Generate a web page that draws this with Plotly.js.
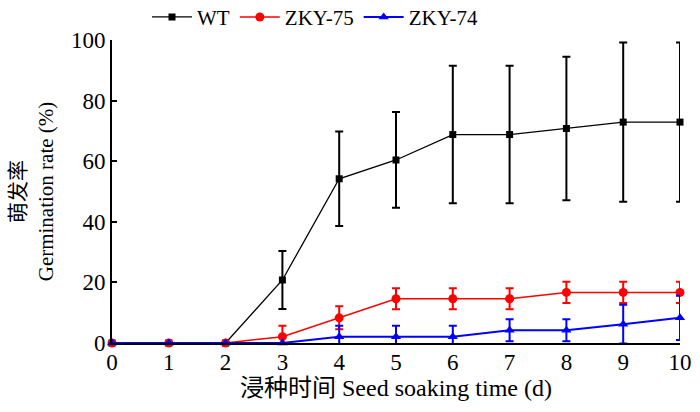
<!DOCTYPE html>
<html>
<head>
<meta charset="utf-8">
<script src="https://cdn.plot.ly/plotly-3.0.1.min.js"></script>
<style>
  body { margin: 0; background: #fff; }
  #plot { width: 700px; height: 412px; }
</style>
</head>
<body>
<div id="plot"></div>
<script>
var days = [0, 1, 2, 3, 4, 5, 6, 7, 8, 9, 10];

var wt = [0, 0, 0, 20.8, 54.2, 60.4, 68.8, 68.8, 70.8, 72.9, 72.9];
var wtErr = [0, 0, 0, 9.6, 15.6, 15.8, 22.7, 22.7, 23.7, 26.3, 26.3];

var zky75 = [0, 0, 0, 2.1, 8.3, 14.6, 14.6, 14.6, 16.7, 16.7, 16.7];
var zky75Err = [0, 0, 0, 3.6, 3.8, 3.5, 3.5, 3.5, 3.5, 3.5, 3.5];

var zky74 = [0, 0, 0, 0, 2.1, 2.1, 2.1, 4.2, 4.2, 6.2, 8.3];
var zky74Err = [0, 0, 0, 0, 3.6, 3.6, 3.6, 3.6, 3.6, 6.4, 7.3];

var serif = "'Liberation Serif', 'Noto Sans CJK SC', serif";

function series(name, y, err, color, symbol, size, lw) {
  return {
    x: days,
    y: y,
    name: name,
    type: 'scatter',
    mode: 'lines+markers',
    cliponaxis: false,
    line: { color: color, width: lw },
    marker: { color: color, symbol: symbol, size: size },
    error_y: { type: 'data', array: err, visible: true, color: color, thickness: 2, width: 4 }
  };
}

var data = [
  series('WT', wt, wtErr, '#000000', 'square', 7, 1.3),
  series('ZKY-75', zky75, zky75Err, '#ff0000', 'circle', 9, 1.5),
  series('ZKY-74', zky74, zky74Err, '#0000ff', 'triangle-up', 9, 2)
];

var tickFont = { family: 'Liberation Serif', size: 23, color: '#000' };

var layout = {
  width: 700,
  height: 412,
  margin: { l: 112, r: 20, t: 40, b: 69 },
  paper_bgcolor: '#fff',
  plot_bgcolor: '#fff',
  font: { family: serif, color: '#000', size: 20 },
  showlegend: true,
  legend: {
    orientation: 'h',
    xref: 'container', yref: 'container',
    x: 0.45, xanchor: 'center',
    y: 0.958, yanchor: 'middle',
    font: { family: serif, size: 21 },
    itemwidth: 40
  },
  xaxis: {
    range: [0, 10],
    tickvals: days,
    showgrid: false,
    zeroline: false,
    showline: true,
    linecolor: '#000',
    linewidth: 2,
    ticks: '',
    ticklabelstandoff: -3,
    tickfont: tickFont,
    title: { text: '浸种时间 Seed soaking time (d)', font: { family: serif, size: 24 }, standoff: 2 }
  },
  yaxis: {
    range: [0, 100],
    tickvals: [0, 20, 40, 60, 80, 100],
    showgrid: false,
    zeroline: false,
    showline: true,
    linecolor: '#000',
    linewidth: 2,
    ticks: 'inside',
    ticklen: 5,
    tickwidth: 2,
    tickcolor: '#000',
    tickfont: tickFont,
    title: { text: '萌发率<br>Germination rate (%)', font: { family: serif, size: 21 }, standoff: 12 }
  }
};

Plotly.newPlot('plot', data, layout, { displayModeBar: false, staticPlot: true });
</script>
</body>
</html>
